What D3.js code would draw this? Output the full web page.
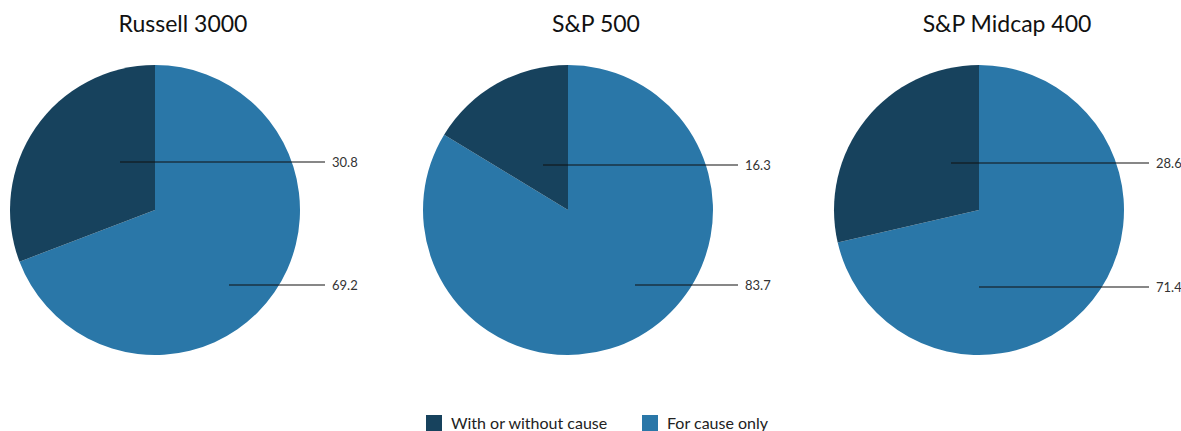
<!DOCTYPE html>
<html>
<head>
<meta charset="utf-8">
<script src="https://cdn.jsdelivr.net/npm/d3@7"></script>
<style>
  html, body { margin: 0; padding: 0; background: #fff; }
  svg { display: block; font-family: Lato, "Open Sans", sans-serif; }
</style>
</head>
<body>
<svg id="chart" width="1181" height="431"></svg>
<script>
// ---- data ----
const indices = ["Russell 3000", "S&P 500", "S&P Midcap 400"];
const seriesNames = ["For cause only", "With or without cause"];
const forCauseOnly = [69.2, 83.7, 71.4];
const withOrWithoutCause = [30.8, 16.3, 28.6];
const legendOrder = ["With or without cause", "For cause only"];

// ---- layout / style ----
const colors = { "For cause only": "#2a77a8", "With or without cause": "#17425d" };
const centersX = [155, 568, 979];
const cy = 210, R = 145;
// leader-line anchor points (offset from pie centre), annotation layout
const leaderAnchors = {
  "With or without cause": [[-35, -48], [-25, -45], [-28, -47]],
  "For cause only": [[74, 75], [67, 75], [0, 77]]
};
const leaderEndDx = 170, labelDx = 177;

const svg = d3.select("#chart");
const pie = d3.pie().sort(null).value(d => d.value);
const arc = d3.arc().innerRadius(0).outerRadius(R);

indices.forEach((name, i) => {
  const cx = centersX[i];
  const data = [
    { key: seriesNames[0], value: forCauseOnly[i] },
    { key: seriesNames[1], value: withOrWithoutCause[i] }
  ];
  const g = svg.append("g").attr("transform", `translate(${cx},${cy})`);
  g.selectAll("path").data(pie(data)).join("path")
    .attr("d", arc)
    .attr("fill", d => colors[d.data.key]);

  data.forEach(d => {
    const [ax, ay] = leaderAnchors[d.key][i];
    g.append("line")
      .attr("x1", ax).attr("y1", ay)
      .attr("x2", leaderEndDx).attr("y2", ay)
      .attr("stroke", "#111").attr("stroke-width", 1.2);
    g.append("text")
      .attr("x", labelDx).attr("y", ay)
      .attr("dy", "0.35em")
      .attr("font-size", 13)
      .attr("fill", "#333")
      .text(d3.format(".1f")(d.value));
  });

  svg.append("text")
    .attr("x", cx + 28).attr("y", 32)
    .attr("text-anchor", "middle")
    .attr("font-size", 23)
    .attr("fill", "#111")
    .text(name);
});

// ---- legend ----
const legendX = [426, 642];
const lg = svg.append("g");
legendOrder.forEach((k, i) => {
  lg.append("rect").attr("x", legendX[i]).attr("y", 415)
    .attr("width", 16).attr("height", 16).attr("fill", colors[k]);
  lg.append("text").attr("x", legendX[i] + 25).attr("y", 429)
    .attr("font-size", 16).attr("fill", "#222").text(k);
});
</script>
</body>
</html>
